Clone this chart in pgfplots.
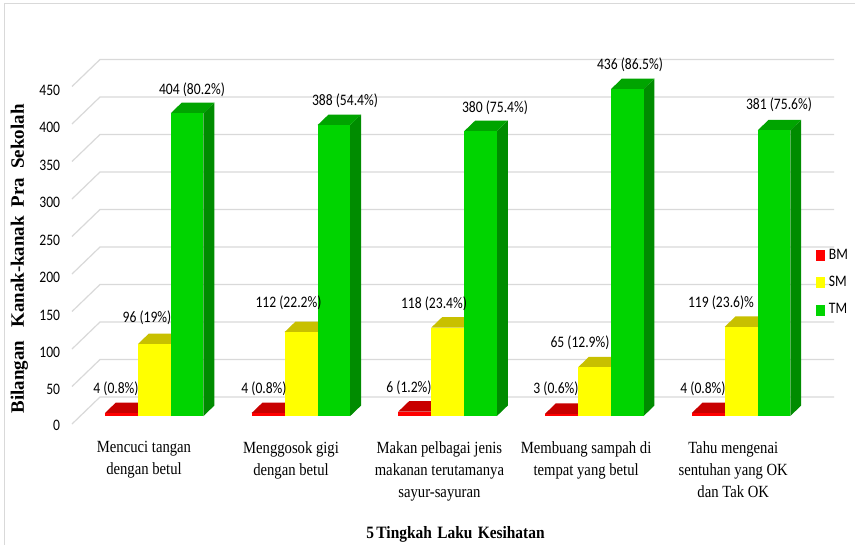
\documentclass[border=0pt]{standalone}
\usepackage{fontspec}
\setmainfont{Carlito}
\newfontfamily\timesfont{Liberation Serif}
\usepackage{pgfplots}
\pgfplotsset{compat=1.18}

\definecolor{gridgray}{HTML}{D9D9D9}
\definecolor{redfront}{HTML}{FF0000}
\definecolor{redtop}{HTML}{C80000}
\definecolor{redside}{HTML}{A80000}
\definecolor{yelfront}{HTML}{FFFF00}
\definecolor{yeltop}{HTML}{C8C000}
\definecolor{yelside}{HTML}{B0A800}
\definecolor{grnfront}{HTML}{00D400}
\definecolor{grntop}{HTML}{00A400}
\definecolor{grnside}{HTML}{008C00}

% One gridline level: left wall, then back wall
\newcommand{\gridlevel}[1]{%
  \addplot3[gridgray, line width=0.9pt, forget plot] coordinates {(72,0,#1) (72,1,#1) (806,1,#1)};
}
% One 3D column: x left, x right, value, front, top and side colours
\newcommand{\column}[6]{%
  \addplot3[fill=#6, draw=none, forget plot] coordinates {(#2,0.296,0) (#2,0.685,0) (#2,0.685,#3) (#2,0.296,#3)} -- cycle;
  \addplot3[fill=#5, draw=none, forget plot] coordinates {(#1,0.296,#3) (#2,0.296,#3) (#2,0.685,#3) (#1,0.685,#3)} -- cycle;
  \addplot3[fill=#4, draw=none, forget plot] coordinates {(#1,0.296,0) (#2,0.296,0) (#2,0.296,#3) (#1,0.296,#3)} -- cycle;
}
\newcommand{\bm}[3]{\column{#1}{#2}{#3}{redfront}{redtop}{redside}}
\newcommand{\sm}[3]{\column{#1}{#2}{#3}{yelfront}{yeltop}{yelside}}
\newcommand{\tm}[3]{\column{#1}{#2}{#3}{grnfront}{grntop}{grnside}}

\begin{document}
\begin{tikzpicture}
\useasboundingbox (0,0) rectangle (641.25pt,-408.75pt);
\fill[white] (0,0) rectangle (641.25pt,-408.75pt);
\draw[gridgray, line width=0.8pt] (3.4pt,-408.75pt) -- (3.4pt,-2.6pt) -- (641.25pt,-2.6pt);

\begin{axis}[
  at={(54pt,-318pt)}, anchor=south west,
  x={(0.75pt,0pt)}, y={(21pt,20.25pt)}, z={(0pt,0.5625pt)},
  xmin=72, xmax=806, ymin=0, ymax=1, zmin=0, zmax=450,
  clip=false,
  axis line style={draw=none},
  major tick length=0pt,
  ytick=\empty,
  ztick={0,50,...,450},
  xtick={144,291,439.4,586.1,733.2},
  xticklabels={
    {Mencuci tangan\\dengan betul},
    {Menggosok gigi\\dengan betul},
    {Makan pelbagai jenis\\makanan terutamanya\\sayur-sayuran},
    {Membuang sampah di\\tempat yang betul},
    {Tahu mengenai\\sentuhan yang OK\\dan Tak OK}},
  xticklabel style={font=\timesfont\fontsize{12.8}{16.6}\selectfont, align=center, anchor=north, xscale=0.86, yshift=-9.5pt},
  zticklabel style={font=\fontsize{12}{13}\selectfont, xscale=0.85, xshift=-7pt, yshift=1.5pt, /pgf/number format/assume math mode=true},
  tick pos=left,
  legend image code/.code={\fill[#1] (0pt,-3.75pt) rectangle (5.8pt,3.75pt);},
  legend style={at={(0.9765,0.388)}, anchor=west, draw=none, fill=none, inner sep=0pt,
    nodes={xscale=0.85}, font=\fontsize{12}{13}\selectfont, row sep=7.2pt,
    /tikz/every odd column/.append style={column sep=1.5pt}},
  legend cell align=left,
]
\gridlevel{0}\gridlevel{50}\gridlevel{100}\gridlevel{150}\gridlevel{200}
\gridlevel{250}\gridlevel{300}\gridlevel{350}\gridlevel{400}\gridlevel{450}

\bm{96.7}{129.7}{4}   \sm{129.7}{162.7}{96}  \tm{162.7}{195.2}{404}
\bm{243.4}{276.4}{4}  \sm{276.4}{309.4}{112} \tm{309.4}{341.9}{388}
\bm{390.1}{423.1}{6}  \sm{423.1}{456.1}{118} \tm{456.1}{488.6}{380}
\bm{536.8}{569.8}{3}  \sm{569.8}{602.8}{65}  \tm{602.8}{635.3}{436}
\bm{683.5}{716.5}{4}  \sm{716.5}{749.5}{119} \tm{749.5}{782}{381}

\addlegendimage{redfront}\addlegendentry{BM}
\addlegendimage{yelfront}\addlegendentry{SM}
\addlegendimage{grnfront}\addlegendentry{TM}
\end{axis}

% Value labels above the columns
\begin{scope}[x=0.75pt, y=-0.75pt, every node/.style={font=\fontsize{12}{13}\selectfont, xscale=0.85, inner sep=0pt}]
\node at (116,389) {4 (0.8\%)};
\node at (147,318) {96 (19\%)};
\node at (192,90) {404 (80.2\%)};
\node at (264,389) {4 (0.8\%)};
\node at (288.5,303) {112 (22.2\%)};
\node at (345,101) {388 (54.4\%)};
\node at (409,388) {6 (1.2\%)};
\node at (434,304) {118 (23.4\%)};
\node at (495,108) {380 (75.4\%)};
\node at (556,389) {3 (0.6\%)};
\node at (580,343) {65 (12.9\%)};
\node at (630,65) {436 (86.5\%)};
\node at (703,389) {4 (0.8\%)};
\node at (721,303) {119 (23.6)\%};
\node at (779,105) {381 (75.6\%)};
\node[xscale=1/0.85, font=\timesfont\bfseries\fontsize{14.2}{16}\selectfont, rotate=90] at (19.5,259)
  {Bilangan\hspace{10pt}Kanak-kanak\hspace{6.75pt}Pra\hspace{6.75pt}Sekolah};
\node[xscale=1.047, font=\timesfont\bfseries\fontsize{13}{15}\selectfont] at (455.5,534)
  {5\hspace{2pt}Tingkah\hspace{4.5pt}Laku\hspace{4.5pt}Kesihatan};
\end{scope}
\end{tikzpicture}
\end{document}
